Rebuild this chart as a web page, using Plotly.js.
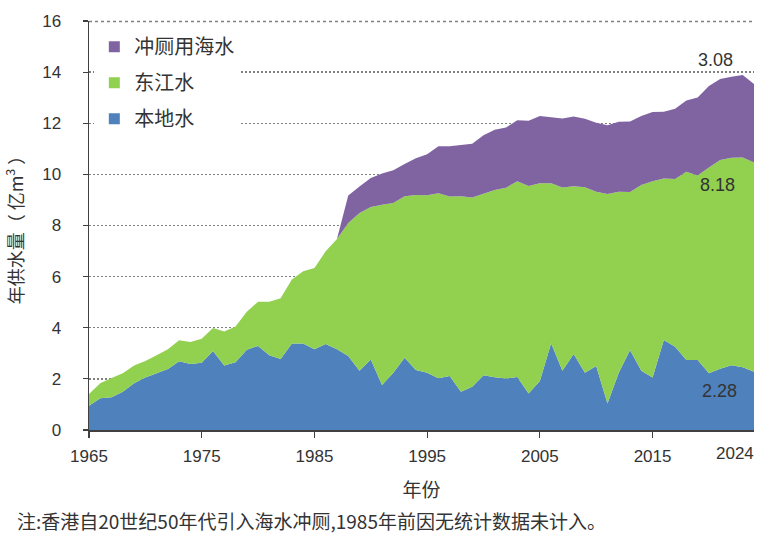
<!DOCTYPE html>
<html>
<head>
<meta charset="utf-8">
<script src="https://cdn.plot.ly/plotly-3.0.1.min.js"></script>
<style>html,body{margin:0;padding:0;background:#fff;}#chart{width:768px;height:536px;}</style>
</head>
<body>
<div id="chart"></div>
<script>
// ---- data ----
var years = [];
for (var y = 1965; y <= 2024; y++) years.push(y);

var localWater = [0.95,1.24,1.28,1.50,1.83,2.05,2.22,2.39,2.69,2.58,
  2.63,3.09,2.52,2.65,3.14,3.29,2.92,2.78,3.38,3.38,
  3.16,3.36,3.16,2.89,2.32,2.76,1.76,2.24,2.83,2.35,
  2.24,2.02,2.11,1.50,1.69,2.14,2.06,2.01,2.07,1.43,
  1.92,3.39,2.32,2.97,2.24,2.50,1.04,2.24,3.13,2.32,
  2.05,3.52,3.26,2.74,2.74,2.22,2.40,2.53,2.45,2.28];

var dongjiangWater = [0.46,0.59,0.75,0.72,0.69,0.65,0.70,0.77,0.82,0.86,
  0.94,0.90,1.33,1.40,1.49,1.73,2.10,2.37,2.51,2.83,
  3.18,3.63,4.31,5.21,6.17,5.96,7.05,6.64,6.31,6.84,
  6.94,7.24,7.02,7.64,7.41,7.09,7.33,7.47,7.66,8.12,
  7.73,6.26,7.17,6.57,7.26,6.82,8.19,7.08,6.18,7.26,
  7.68,6.32,6.56,7.36,7.22,8.05,8.16,8.12,8.21,8.18];

var seaWater = [0,0,0,0,0,0,0,0,0,0,
  0,0,0,0,0,0,0,0,0,0,
  0,0,0,1.07,1.04,1.14,1.22,1.28,1.27,1.44,
  1.61,1.84,1.97,2.00,2.10,2.30,2.36,2.35,2.39,2.55,
  2.63,2.58,2.70,2.72,2.68,2.70,2.69,2.74,2.76,2.70,
  2.71,2.61,2.75,2.79,3.05,3.19,3.17,3.17,3.23,3.08];

var seriesNames = ['本地水', '东江水', '冲厕用海水'];
var xTickVals = [1965, 1975, 1985, 1995, 2005, 2015];
var yTickVals = [0, 2, 4, 6, 8, 10, 12, 14, 16];
var lastTickLabel = '2024';
var noteText = '注:香港自20世纪50年代引入海水冲厕,1985年前因无统计数据未计入。';

// ---- style ----
var colors = ['#4F81BD', '#92D050', '#8064A2'];
var textColor = '#333333';
var axisColor = '#404040';
var gridColor = '#808080';
var baseFont = 'Liberation Sans, Arial, sans-serif';
var cjkFont = '"Noto Sans CJK SC", "Liberation Sans", sans-serif';

var series = [localWater, dongjiangWater, seaWater];
var traces = [];
for (var i = 0; i < 3; i++) {
  traces.push({
    x: years, y: series[i], type: 'scatter', mode: 'lines',
    stackgroup: 'one', fill: 'tonexty', fillcolor: colors[i],
    line: {width: 0, color: colors[i]}, name: seriesNames[i],
    showlegend: false, hoverinfo: 'skip'
  });
}
// legend entries (square markers), in legend order
for (var j = 2; j >= 0; j--) {
  traces.push({
    x: [null], y: [null], type: 'scatter', mode: 'markers',
    marker: {symbol: 'square', size: 11, color: colors[j]},
    name: seriesNames[j], legendgroup: 'g' + j, showlegend: true
  });
}

var n = years.length - 1;
var lastLocal = localWater[n], lastDJ = dongjiangWater[n], lastSea = seaWater[n];
var total = lastLocal + lastDJ + lastSea;

var annFont = {family: baseFont, size: 18, color: textColor};
var annotations = [
  {x: years[n] - 3.4, y: total + 0.95, xref: 'x', yref: 'y', text: lastSea.toFixed(2), showarrow: false, font: annFont},
  {x: years[n] - 3.2, y: lastLocal + lastDJ - 0.87, xref: 'x', yref: 'y', text: lastDJ.toFixed(2), showarrow: false, font: annFont},
  {x: years[n] - 3.1, y: lastLocal - 0.75, xref: 'x', yref: 'y', text: lastLocal.toFixed(2), showarrow: false, font: annFont},
  {x: years[n], y: 0, xref: 'x', yref: 'y', text: lastTickLabel, showarrow: false, xanchor: 'right', yanchor: 'top', yshift: -12, xshift: 2,
   font: {family: baseFont, size: 17, color: textColor}},
  {x: -0.111, y: -0.222, xref: 'paper', yref: 'paper', text: noteText, showarrow: false, xanchor: 'left', yanchor: 'middle',
   font: {family: cjkFont, size: 19, color: textColor}}
];

var layout = {
  width: 768, height: 536,
  margin: {l: 89, r: 14, t: 21, b: 106},
  paper_bgcolor: '#ffffff', plot_bgcolor: '#ffffff',
  font: {family: baseFont, color: textColor},
  showlegend: true,
  legend: {
    x: 0.008, y: 0.985, xanchor: 'left', yanchor: 'top',
    bgcolor: '#ffffff', borderwidth: 0,
    font: {family: cjkFont, size: 20, color: textColor},
    traceorder: 'grouped', tracegroupgap: 7, itemclick: false
  },
  xaxis: {
    range: [1965, 2024], tickvals: xTickVals, ticktext: xTickVals.map(String),
    showgrid: false, zeroline: false, showline: true, linecolor: axisColor, linewidth: 1.5,
    ticks: 'outside', ticklen: 6, tickcolor: axisColor, tickwidth: 1.2,
    ticklabelstandoff: 4,
    tickfont: {family: baseFont, size: 17, color: textColor},
    title: {text: '年份', font: {family: cjkFont, size: 19, color: textColor}, standoff: 19}
  },
  yaxis: {
    range: [0, 16], tickvals: yTickVals,
    showgrid: true, gridcolor: gridColor, gridwidth: 1.3, griddash: '2px,2px',
    zeroline: false, showline: true, linecolor: axisColor, linewidth: 1.5,
    ticks: 'outside', ticklen: 5, tickcolor: axisColor, tickwidth: 1.2,
    ticklabelstandoff: 18,
    tickfont: {family: baseFont, size: 17, color: textColor},
    title: {text: '年供水量（ 亿m<sup>3</sup> ）', font: {family: cjkFont, size: 18, color: textColor}, standoff: 14}
  },
  shapes: [
    {type: 'line', xref: 'paper', yref: 'paper', x0: 0, x1: 1, y0: 0.999, y1: 0.999,
     line: {color: gridColor, width: 1.5, dash: 'dot'}, layer: 'above'}
  ],
  annotations: annotations
};

Plotly.newPlot('chart', traces, layout, {displayModeBar: false, staticPlot: true});
</script>
</body>
</html>
